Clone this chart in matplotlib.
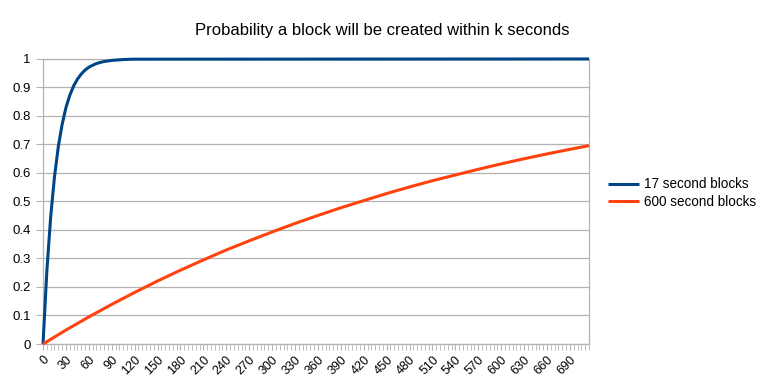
import matplotlib
matplotlib.use('Agg')
import matplotlib.pyplot as plt
import numpy as np

plt.rcParams['font.family'] = ['Liberation Sans', 'DejaVu Sans']

# data (seconds -> probability)
k_fast = [0, 5, 10, 15, 20, 25, 30, 35, 40, 45, 50, 55, 60, 65, 70, 75, 80,
          85, 90, 95, 100, 105, 110, 115, 120, 715]
p_fast = [0, 0.255, 0.445, 0.586, 0.692, 0.770, 0.829, 0.872, 0.905, 0.929,
          0.947, 0.961, 0.971, 0.978, 0.984, 0.988, 0.991, 0.993, 0.995,
          0.996, 0.997, 0.998, 0.9985, 0.999, 0.9993, 1.0]

k_slow = [0, 30, 60, 90, 120, 150, 180, 210, 240, 270, 300, 330, 360, 390,
          420, 450, 480, 510, 540, 570, 600, 630, 660, 690, 715]
p_slow = [0, 0.049, 0.095, 0.139, 0.181, 0.221, 0.259, 0.295, 0.330, 0.362,
          0.393, 0.423, 0.451, 0.478, 0.503, 0.528, 0.551, 0.573, 0.593,
          0.613, 0.632, 0.650, 0.667, 0.683, 0.696]

labels = ['17 second blocks', '600 second blocks']
x_ticks = list(range(0, 700, 30))
y_ticks = [0, 0.1, 0.2, 0.3, 0.4, 0.5, 0.6, 0.7, 0.8, 0.9, 1]

fig = plt.figure(figsize=(7.64, 3.88), dpi=100)
ax = fig.add_axes([0.0563, 0.1134, 0.7147, 0.7346])

grey = '#b3b3b3'
ax.plot(k_fast, p_fast, color='#004586', lw=2.2, label=labels[0],
        solid_capstyle='butt', clip_on=False, zorder=3)
ax.plot(k_slow, p_slow, color='#ff420e', lw=2.2, label=labels[1],
        solid_capstyle='butt', clip_on=False, zorder=3)

ax.set_xlim(0, 715)
ax.set_ylim(0, 1)
ax.set_yticks(y_ticks)
ax.set_yticklabels([('%g' % v) for v in y_ticks])
ax.set_xticks(x_ticks)
ax.set_xticklabels([str(v) for v in x_ticks], rotation=45, ha='right',
                   rotation_mode='anchor')
ax.set_xticks(range(0, 716, 5), minor=True)
ax.yaxis.grid(True, color=grey, lw=0.9)
ax.set_axisbelow(True)
for s in ax.spines.values():
    s.set_color(grey)
    s.set_linewidth(0.9)
ax.tick_params(axis='y', length=5, color=grey, labelsize=9.5, pad=4)
ax.tick_params(axis='x', which='both', length=4, color=grey, labelsize=9, pad=3)

fig.suptitle('Probability a block will be created within k seconds',
             x=0.5, y=0.94, fontsize=12)

ax.legend(loc='center left', bbox_to_anchor=(1.025, 0.53), frameon=False,
          fontsize=9.75, handlelength=2.3, handletextpad=0.35, labelspacing=0.25,
          borderaxespad=0.0)

plt.savefig('out.png', dpi=100)
